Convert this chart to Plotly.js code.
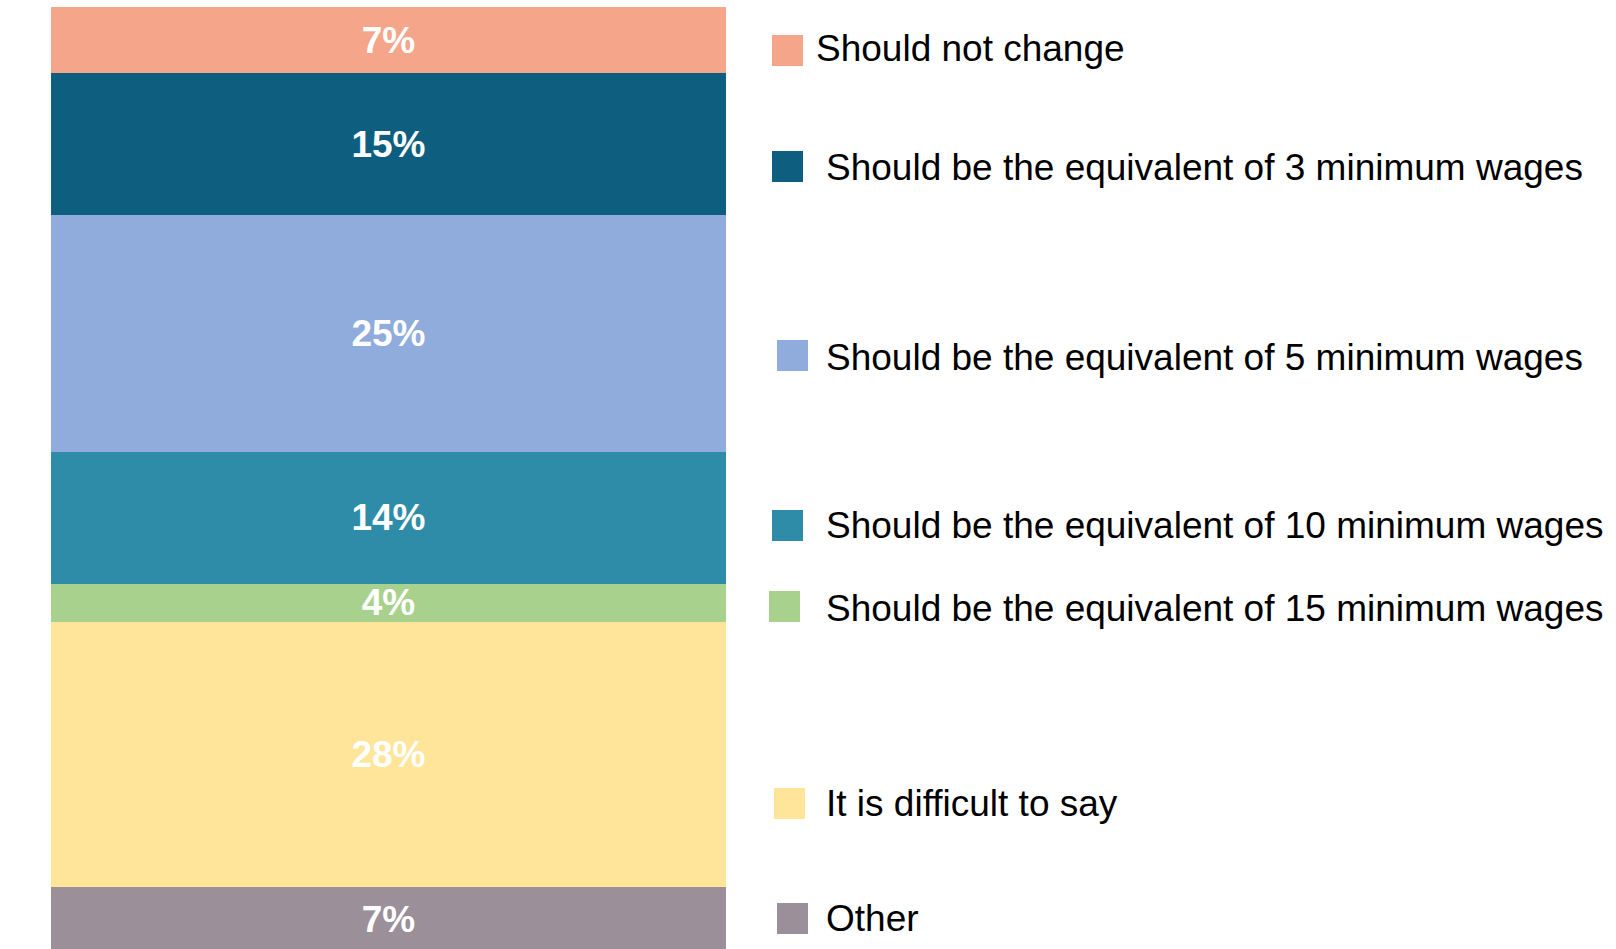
<!DOCTYPE html>
<html>
<head>
<meta charset="utf-8">
<script src="https://cdn.plot.ly/plotly-3.0.1.min.js"></script>
<style>
  html, body { margin: 0; padding: 0; background: #ffffff; }
  #chart { width: 1616px; height: 949px; }
</style>
</head>
<body>
<div id="chart"></div>
<script>
// ---- data (top to bottom as shown in the stack) ----
const categories = [
  "Should not change",
  "Should be the equivalent of 3 minimum wages",
  "Should be the equivalent of 5 minimum wages",
  "Should be the equivalent of 10 minimum wages",
  "Should be the equivalent of 15 minimum wages",
  "It is difficult to say",
  "Other"
];
const values = [7, 15, 25, 14, 4, 28, 7];
const colors = ["#F4A58A", "#0E5F7F", "#8FACDD", "#2E8CA8", "#A9D18E", "#FEE599", "#9B8F99"];

// ---- layout constants (pixels) ----
const W = 1616, H = 949;
const M = { l: 51, r: W - 726, t: 7, b: 0 };
const plotW = W - M.l - M.r, plotH = H - M.t - M.b;
// legend rows: square left x, square centre y, text left x, text centre y
const legendSqX = [772, 772, 777, 772, 769, 774, 777];
const legendSqY = [50.5, 166.5, 355.5, 525.5, 606.5, 803.5, 918.5];
const legendTxY = [49, 168, 357, 525, 608, 803, 918];
const legendTxX = [814, 824, 824, 824, 824, 824, 824];
const SQ = 31;

const px2x = px => (px - M.l) / plotW;
const px2y = py => (H - M.b - py) / plotH;

// bottom of stack first
const traces = [];
for (let i = categories.length - 1; i >= 0; i--) {
  traces.push({
    type: "bar",
    name: categories[i],
    x: [""],
    y: [values[i]],
    marker: { color: colors[i], line: { width: 0 } },
    width: 1,
    text: [values[i] + "%"],
    textposition: "inside",
    insidetextanchor: "middle",
    textangle: 0,
    constraintext: "none",
    textfont: { family: "Liberation Sans, Arial, sans-serif", size: 37, color: "#ffffff", weight: "bold" },
    hoverinfo: "skip",
    showlegend: false
  });
}

const shapes = [], annotations = [];
categories.forEach((c, i) => {
  shapes.push({
    type: "rect", xref: "paper", yref: "paper",
    x0: px2x(legendSqX[i]), x1: px2x(legendSqX[i] + SQ),
    y0: px2y(legendSqY[i] + SQ / 2), y1: px2y(legendSqY[i] - SQ / 2),
    fillcolor: colors[i], line: { width: 0 }
  });
  annotations.push({
    xref: "paper", yref: "paper",
    x: px2x(legendTxX[i]), y: px2y(legendTxY[i]),
    xanchor: "left", yanchor: "middle",
    text: c, showarrow: false,
    font: { family: "Liberation Sans, Arial, sans-serif", size: 37, color: "#000000" }
  });
});

const layout = {
  width: W, height: H,
  margin: M,
  barmode: "stack",
  bargap: 0,
  paper_bgcolor: "#ffffff",
  plot_bgcolor: "#ffffff",
  showlegend: false,
  uniformtext: { mode: "show", minsize: 37 },
  xaxis: { range: [-0.5, 0.5], visible: false, fixedrange: true },
  yaxis: { range: [0.42, 100], visible: false, fixedrange: true },
  shapes: shapes,
  annotations: annotations
};

Plotly.newPlot("chart", traces, layout, { staticPlot: true, displayModeBar: false });
</script>
</body>
</html>
